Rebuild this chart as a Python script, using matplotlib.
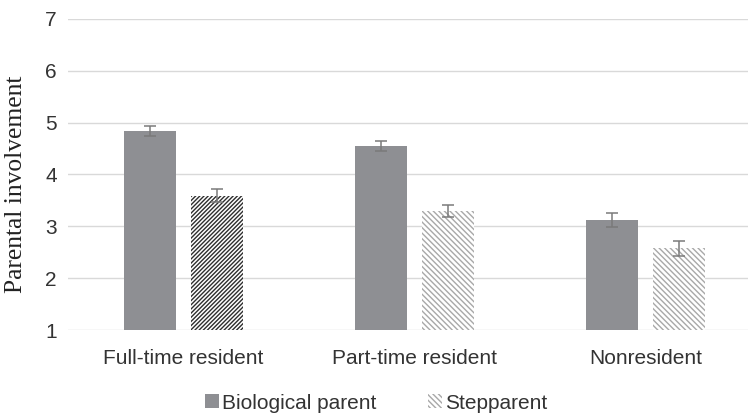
import matplotlib
matplotlib.use("Agg")
import matplotlib.pyplot as plt
import numpy as np
from matplotlib.patches import Patch

categories = ["Full-time resident", "Part-time resident", "Nonresident"]
bio_vals = [4.84, 4.55, 3.12]
bio_err = [0.10, 0.10, 0.135]
step_vals = [3.59, 3.30, 2.58]
step_err = [0.125, 0.115, 0.145]
yticks = [1, 2, 3, 4, 5, 6, 7]
series_names = ["Biological parent", "Stepparent"]

W, H = 748, 415
fig = plt.figure(figsize=(W / 100, H / 100), dpi=100)
ax = fig.add_axes([68 / W, 1 - 330 / H, (748 - 68) / W, (330 - 19) / H])

x = np.arange(len(categories))
bw = 0.225
off = 0.145
bio_color = "#8e8f93"
err_color = "#7a7a7a"
light_hatch = "\\" * 6

ax.bar(x - off, bio_vals, bw, color=bio_color, edgecolor="none", zorder=2)
step_hatches = ["/" * 8, light_hatch, light_hatch]
step_hcolors = ["#2e2e2e", "#a8a8a8", "#a8a8a8"]
for i in range(len(categories)):
    ax.bar(x[i] + off, step_vals[i], bw, color="white", edgecolor=step_hcolors[i],
           hatch=step_hatches[i], linewidth=0, zorder=2)

ax.errorbar(x - off, bio_vals, yerr=bio_err, fmt="none", ecolor=err_color,
            elinewidth=1.1, capsize=4, capthick=1.1, zorder=3)
ax.errorbar(x + off, step_vals, yerr=step_err, fmt="none", ecolor=err_color,
            elinewidth=1.1, capsize=4, capthick=1.1, zorder=3)

ax.set_ylim(1, 7)
ax.set_xlim(-0.5, (748 - 183.5) / 231)
ax.set_yticks(yticks)
ax.set_xticks(x)
ax.set_xticklabels(categories)
for s in ax.spines.values():
    s.set_visible(False)
ax.grid(axis="y", color="#d9d9d9", linewidth=1.0, zorder=0)
ax.set_axisbelow(True)
ax.tick_params(axis="both", length=0, labelsize=15, colors="#333333")
ax.tick_params(axis="y", pad=8)
ax.tick_params(axis="x", pad=14)
for lab in ax.get_xticklabels() + ax.get_yticklabels():
    lab.set_family(["Liberation Sans", "DejaVu Sans"])

fig.text(16 / W, 1 - 184 / H, "Parental involvement", rotation=90, va="center", ha="center",
         fontsize=18.4, family=["Liberation Serif", "DejaVu Serif"], color="#222222")

handles = [Patch(facecolor=bio_color, edgecolor="none"),
           Patch(facecolor="white", edgecolor="#a8a8a8", hatch=light_hatch, linewidth=0)]
leg = fig.legend(handles, series_names, loc="center", bbox_to_anchor=(376 / W, 1 - 403 / H),
                 ncol=2, frameon=False, handlelength=0.67, handleheight=0.67, handletextpad=0.15,
                 columnspacing=2.45, borderpad=0, borderaxespad=0,
                 prop={"family": ["Liberation Sans", "DejaVu Sans"], "size": 15})
for t in leg.get_texts():
    t.set_color("#333333")

fig.savefig("out.png", dpi=100)
